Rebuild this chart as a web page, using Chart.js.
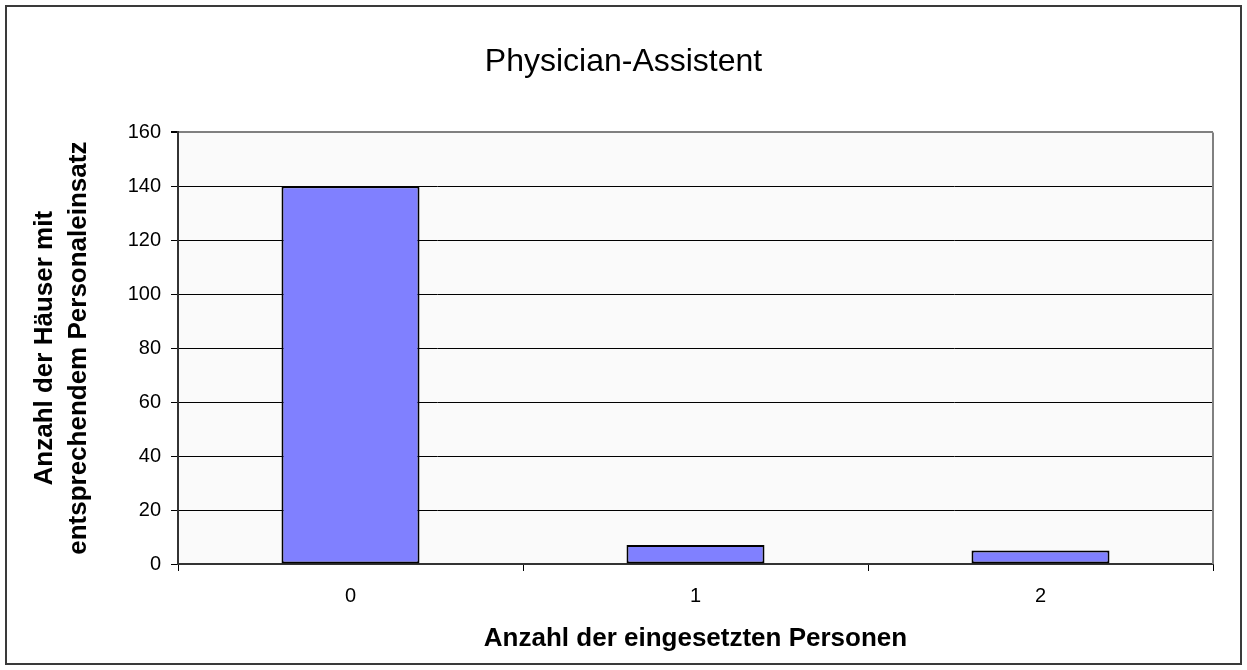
<!DOCTYPE html>
<html>
<head>
<meta charset="utf-8">
<script src="https://cdn.jsdelivr.net/npm/chart.js@4/dist/chart.umd.min.js"></script>
<style>
  body { margin: 0; background: #fff; }
  canvas { display: block; }
</style>
</head>
<body>
<canvas id="paChart" width="1247" height="670"></canvas>
<script>
// Data
const categories = ['0', '1', '2'];
const houseCounts = [140, 7, 5];
const yMin = 0;
const yMax = 160;
const yStep = 20;

const FONT = "'Liberation Sans', Arial, sans-serif";

// plot background, gray frame on the right, outer border
const framePlugin = {
  id: 'frame',
  beforeDraw(chart) {
    const { ctx, chartArea: a } = chart;
    ctx.save();
    ctx.fillStyle = '#ffffff';
    ctx.fillRect(0, 0, chart.width, chart.height);
    ctx.fillStyle = '#fafafa';
    ctx.fillRect(a.left, a.top, a.right - a.left, a.bottom - a.top);
    ctx.strokeStyle = '#3a3a3a';
    ctx.lineWidth = 2;
    ctx.strokeRect(6, 6, chart.width - 12, chart.height - 12);
    ctx.restore();
  },
  afterDatasetsDraw(chart) {
    const { ctx, chartArea: a } = chart;
    ctx.save();
    ctx.strokeStyle = '#808080';
    ctx.lineWidth = 2;
    ctx.beginPath();
    ctx.moveTo(a.right, a.top);
    ctx.lineTo(a.right, a.bottom);
    ctx.stroke();
    ctx.restore();
  }
};

const ctx = document.getElementById('paChart').getContext('2d');

new Chart(ctx, {
  type: 'bar',
  data: {
    labels: categories,
    datasets: [{
      label: 'Physician-Assistent',
      data: houseCounts,
      backgroundColor: '#8080ff',
      borderColor: '#000000',
      borderWidth: 2,
      borderSkipped: false,
      barPercentage: 0.4,
      categoryPercentage: 1
    }]
  },
  options: {
    responsive: false,
    animation: false,
    layout: {
      padding: { left: 34, right: 34, top: 0, bottom: 0 }
    },
    plugins: {
      legend: { display: false },
      tooltip: { enabled: false },
      title: {
        display: true,
        text: 'Physician-Assistent',
        color: '#000',
        font: { family: FONT, size: 32, weight: 'normal', lineHeight: 1.2 },
        padding: { top: 43, bottom: 51 }
      }
    },
    scales: {
      x: {
        afterFit(scale) { scale.height = 106; },
        grid: {
          display: true,
          drawOnChartArea: false,
          tickLength: 7,
          color: '#000',
          offset: true
        },
        border: { color: '#333', width: 2 },
        ticks: {
          color: '#000',
          padding: 13,
          font: { family: FONT, size: 20 }
        },
        title: {
          display: true,
          text: 'Anzahl der eingesetzten Personen',
          color: '#000',
          font: { family: FONT, size: 26, weight: 'bold', lineHeight: 1.2 },
          padding: { top: 0, bottom: 16 }
        }
      },
      y: {
        min: yMin,
        max: yMax,
        afterFit(scale) { scale.width = 144; },
        grid: {
          color: (c) => (c.tick && c.tick.value === yMax ? '#808080' : '#000'),
          lineWidth: (c) => (c.tick && c.tick.value === yMax ? 2 : 1),
          tickColor: '#000',
          tickLength: 7
        },
        border: { color: '#333', width: 2 },
        ticks: {
          stepSize: yStep,
          color: '#000',
          padding: 10,
          font: { family: FONT, size: 20 }
        },
        title: {
          display: true,
          text: ['Anzahl der Häuser mit', 'entsprechendem Personaleinsatz'],
          color: '#000',
          font: { family: FONT, size: 26, weight: 'bold', lineHeight: 1.3 },
          padding: { top: -6, bottom: 0 }
        }
      }
    }
  },
  plugins: [framePlugin]
});
</script>
</body>
</html>
